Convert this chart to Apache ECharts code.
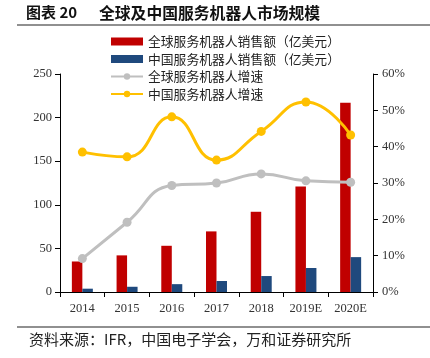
<!DOCTYPE html>
<html><head><meta charset="utf-8">
<script src="https://cdn.jsdelivr.net/npm/echarts@6/dist/echarts.min.js"></script>
<style>html,body{margin:0;padding:0;background:#fff}#c{width:430px;height:358px}</style>
</head><body><div id="c"></div>
<script>
const categories = ['2014','2015','2016','2017','2018','2019E','2020E'];
const globalSales = [35, 42, 53, 69.5, 92, 121, 217];
const chinaSales = [3.8, 6, 9, 12.6, 18.3, 27.5, 40];
const globalGrowth = [9.2, 19.2, 29.3, 30.0, 32.5, 30.6, 30.2];
const chinaGrowth = [38.5, 37.2, 48.2, 36.3, 44.2, 52.3, 43.2];
const leftTicks = {min: 0, max: 250, interval: 50};
const rightTicks = {min: 0, max: 60, interval: 10};

const serif = 'Liberation Serif';
const cjk = 'Noto Sans CJK SC';
const chart = echarts.init(document.getElementById('c'), null, {renderer: 'canvas'});
chart.setOption({
  animation: false,
  backgroundColor: '#fff',
  graphic: [
    {type: 'text', left: 26, top: 5, style: {text: '图表 20', font: 'bold 15px "Noto Sans CJK SC"', fill: '#111'}},
    {type: 'text', left: 99, top: 5, style: {text: '全球及中国服务机器人市场规模', font: 'bold 15.8px "Noto Sans CJK SC"', fill: '#111'}},
    {type: 'line', shape: {x1: 17, y1: 25, x2: 430, y2: 25}, style: {stroke: '#222', lineWidth: 1.2}},
    {type: 'line', shape: {x1: 17, y1: 327, x2: 430, y2: 327}, style: {stroke: '#222', lineWidth: 1.2}},
    {type: 'text', left: 29, top: 332, style: {text: '资料来源：IFR，中国电子学会，万和证券研究所', font: '15px "Noto Sans CJK SC"', fill: '#222'}}
  ],
  legend: {
    orient: 'vertical', left: 105, top: 30,
    itemWidth: 32, itemHeight: 8, itemGap: 4.5,
    textStyle: {fontFamily: cjk, fontSize: 12.8, color: '#222', lineHeight: 13},
    data: [
      {name: '全球服务机器人销售额（亿美元）', icon: 'rect'},
      {name: '中国服务机器人销售额（亿美元）', icon: 'rect'},
      {name: '全球服务机器人增速'},
      {name: '中国服务机器人增速'}
    ]
  },
  grid: {left: 60, right: 57, top: 74, bottom: 66, containLabel: false},
  xAxis: {
    type: 'category', data: categories, boundaryGap: true,
    axisLine: {lineStyle: {color: '#000', width: 1}},
    axisTick: {show: true, length: 5, alignWithLabel: false, lineStyle: {color: '#000'}},
    axisLabel: {fontFamily: serif, fontSize: 12.5, color: '#333', margin: 10}
  },
  yAxis: [
    {type: 'value', min: leftTicks.min, max: leftTicks.max, interval: leftTicks.interval,
     axisLine: {show: true, lineStyle: {color: '#000'}},
     axisTick: {show: true, length: 5, lineStyle: {color: '#000'}},
     splitLine: {show: false},
     axisLabel: {fontFamily: serif, fontSize: 12.5, color: '#333', margin: 8}},
    {type: 'value', min: rightTicks.min, max: rightTicks.max, interval: rightTicks.interval, position: 'right',
     axisLine: {show: true, lineStyle: {color: '#000'}},
     axisTick: {show: true, length: 5, lineStyle: {color: '#000'}},
     splitLine: {show: false},
     axisLabel: {fontFamily: serif, fontSize: 12.5, color: '#333', margin: 9, formatter: '{value}%'}}
  ],
  series: [
    {name: '全球服务机器人销售额（亿美元）', type: 'bar', data: globalSales, barWidth: 10.5, barGap: '0%',
     itemStyle: {color: '#C00000'}},
    {name: '中国服务机器人销售额（亿美元）', type: 'bar', data: chinaSales, barWidth: 10.5, barGap: '0%',
     itemStyle: {color: '#1F497D'}},
    {name: '全球服务机器人增速', type: 'line', yAxisIndex: 1, data: globalGrowth, smooth: true,
     symbol: 'circle', symbolSize: 9, lineStyle: {width: 3, color: '#BFBFBF'}, itemStyle: {color: '#BFBFBF'}, z: 3},
    {name: '中国服务机器人增速', type: 'line', yAxisIndex: 1, data: chinaGrowth, smooth: true,
     symbol: 'circle', symbolSize: 9, lineStyle: {width: 3, color: '#FFC000'}, itemStyle: {color: '#FFC000'}, z: 4}
  ]
});
</script></body></html>
